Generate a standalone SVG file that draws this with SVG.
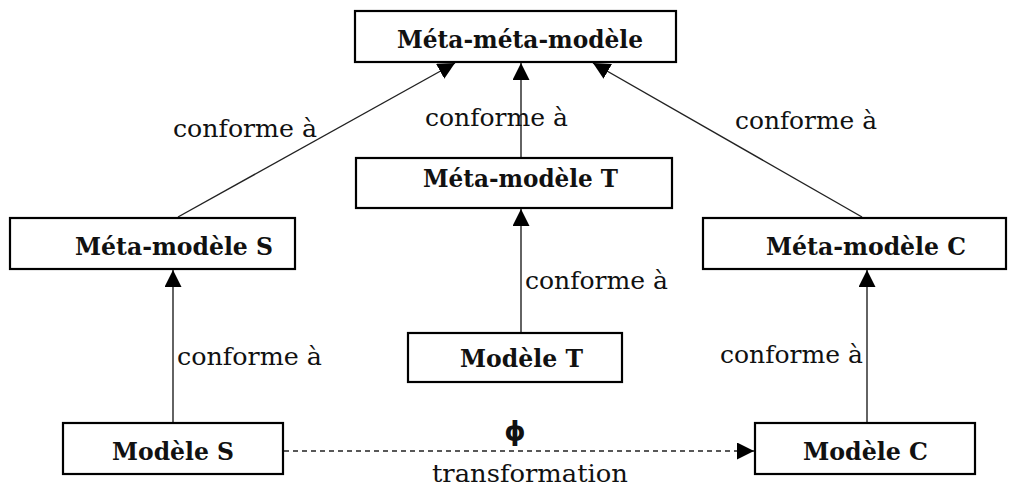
<svg xmlns="http://www.w3.org/2000/svg" width="1016" height="488" viewBox="0 0 1016 488">
<style>
.box{fill:#fff;stroke:#000;stroke-width:2.2}
.bt{font-family:"DejaVu Serif","Liberation Serif",serif;font-weight:bold;font-size:25px;fill:#111}
.lt{font-family:"DejaVu Serif","Liberation Serif",serif;font-size:25px;fill:#111}
.ln{stroke:#222;stroke-width:1.4;fill:none}
</style>
<defs>
<marker id="ah" markerWidth="17" markerHeight="17" refX="17" refY="8.5" orient="auto" markerUnits="userSpaceOnUse">
<path d="M0,0 L17,8.5 L0,17 Z" fill="#000"/>
</marker>
</defs>
<rect width="1016" height="488" fill="#fff"/>
<g id="connectors">
<line class="ln" x1="178" y1="217" x2="455" y2="63" marker-end="url(#ah)"/>
<line class="ln" x1="521" y1="157" x2="521" y2="63" marker-end="url(#ah)"/>
<line class="ln" x1="862" y1="217" x2="593" y2="63" marker-end="url(#ah)"/>
<line class="ln" x1="173" y1="422" x2="173" y2="270" marker-end="url(#ah)"/>
<line class="ln" x1="521" y1="332" x2="521" y2="209" marker-end="url(#ah)"/>
<line class="ln" x1="867" y1="422" x2="867" y2="270" marker-end="url(#ah)"/>
<line class="ln" x1="284" y1="451" x2="754" y2="451" stroke-dasharray="5,4" marker-end="url(#ah)"/>
<text class="lt" x="173" y="137" textLength="144" lengthAdjust="spacingAndGlyphs">conforme à</text>
<text class="lt" x="425" y="126" textLength="143" lengthAdjust="spacingAndGlyphs">conforme à</text>
<text class="lt" x="735" y="129" textLength="142" lengthAdjust="spacingAndGlyphs">conforme à</text>
<text class="lt" x="525" y="289" textLength="143" lengthAdjust="spacingAndGlyphs">conforme à</text>
<text class="lt" x="177" y="365" textLength="145" lengthAdjust="spacingAndGlyphs">conforme à</text>
<text class="lt" x="720" y="363" textLength="143" lengthAdjust="spacingAndGlyphs">conforme à</text>
<text x="515" y="440" text-anchor="middle" style="font-family:'DejaVu Sans',sans-serif;font-weight:bold;font-size:27px;fill:#111">ϕ</text>
<text class="lt" x="432" y="482" textLength="196" lengthAdjust="spacingAndGlyphs">transformation</text>
</g>
<g id="mmm">
<rect class="box" x="355" y="11" width="321" height="51"/>
<text class="bt" x="397" y="48" textLength="246" lengthAdjust="spacingAndGlyphs">Méta-méta-modèle</text>
</g>
<g id="mmS">
<rect class="box" x="10" y="218" width="285" height="51"/>
<text class="bt" x="75" y="255" textLength="198" lengthAdjust="spacingAndGlyphs">Méta-modèle S</text>
</g>
<g id="mmT">
<rect class="box" x="356" y="158" width="316" height="50"/>
<text class="bt" x="423" y="187" textLength="195" lengthAdjust="spacingAndGlyphs">Méta-modèle T</text>
</g>
<g id="mmC">
<rect class="box" x="703" y="218" width="303" height="51"/>
<text class="bt" x="766" y="255" textLength="200" lengthAdjust="spacingAndGlyphs">Méta-modèle C</text>
</g>
<g id="mT">
<rect class="box" x="408" y="333" width="214" height="49"/>
<text class="bt" x="460" y="367" textLength="123" lengthAdjust="spacingAndGlyphs">Modèle T</text>
</g>
<g id="mS">
<rect class="box" x="63" y="423" width="220" height="51"/>
<text class="bt" x="112" y="460" textLength="122" lengthAdjust="spacingAndGlyphs">Modèle S</text>
</g>
<g id="mC">
<rect class="box" x="755" y="423" width="220" height="51"/>
<text class="bt" x="803" y="460" textLength="125" lengthAdjust="spacingAndGlyphs">Modèle C</text>
</g>
</svg>
